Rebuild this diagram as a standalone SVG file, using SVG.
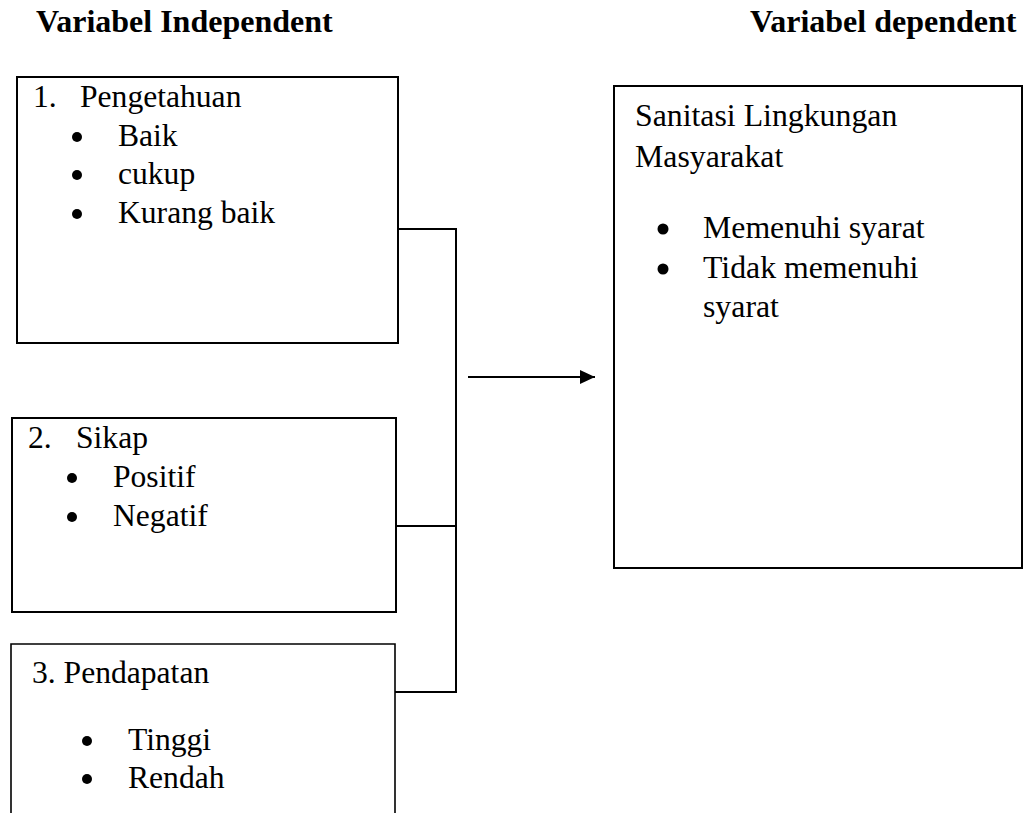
<svg xmlns="http://www.w3.org/2000/svg" width="1026" height="813" viewBox="0 0 1026 813">
<defs>
<style>
.box{fill:#fff;stroke:#000;stroke-width:2}
.t{font-family:"Liberation Serif","Times New Roman",serif;font-size:31.6px;fill:#000}
.tr{font-family:"Liberation Serif","Times New Roman",serif;font-size:31.8px;fill:#000}
.h{font-family:"Liberation Serif","Times New Roman",serif;font-size:32px;font-weight:bold;fill:#000}
.dot{fill:#000}
.conn{fill:none;stroke:#000;stroke-width:2}
</style>
<marker id="arr" viewBox="0 0 15 14" refX="15" refY="7" markerWidth="15" markerHeight="14" markerUnits="userSpaceOnUse" orient="auto">
<path d="M0,0 L15,7 L0,14 Z" fill="#000"/>
</marker>
</defs>
<rect width="1026" height="813" fill="#fff"/>
<g id="titles">
<text class="h" x="36" y="32">Variabel Independent</text>
<text class="h" x="750" y="32">Variabel dependent</text>
</g>
<g id="connectors">
<path class="conn" d="M395,229 H456 V692 H395"/>
<path class="conn" d="M395,526 H456"/>
<line class="conn" x1="468" y1="377" x2="595" y2="377" marker-end="url(#arr)"/>
</g>
<g id="node-pengetahuan">
<rect class="box" x="17" y="77" width="381" height="266"/>
<text class="t" x="33" y="107">1.</text>
<text class="t" x="80" y="107">Pengetahuan</text>
<circle class="dot" cx="77" cy="137" r="5"/>
<text class="t" x="118" y="146">Baik</text>
<circle class="dot" cx="77" cy="175" r="5"/>
<text class="t" x="118" y="184">cukup</text>
<circle class="dot" cx="77" cy="214" r="5"/>
<text class="t" x="118" y="223">Kurang baik</text>
</g>
<g id="node-sikap">
<rect class="box" x="12" y="418" width="384" height="194"/>
<text class="t" x="28" y="448">2.</text>
<text class="t" x="76" y="448">Sikap</text>
<circle class="dot" cx="72" cy="478" r="5"/>
<text class="t" x="113" y="487">Positif</text>
<circle class="dot" cx="72" cy="517" r="5"/>
<text class="t" x="113" y="526">Negatif</text>
</g>
<g id="node-pendapatan">
<path class="box" d="M11,820 V644 H395 V820" style="stroke-width:1.6"/>
<text class="t" x="32" y="683">3. Pendapatan</text>
<circle class="dot" cx="87" cy="741" r="5"/>
<text class="t" x="128" y="750">Tinggi</text>
<circle class="dot" cx="87" cy="779" r="5"/>
<text class="t" x="128" y="788">Rendah</text>
</g>
<g id="node-sanitasi">
<rect class="box" x="614" y="86" width="408" height="482"/>
<text class="tr" x="635" y="126">Sanitasi Lingkungan</text>
<text class="tr" x="635" y="167">Masyarakat</text>
<circle class="dot" cx="663" cy="229" r="5.5"/>
<text class="tr" x="703" y="238">Memenuhi syarat</text>
<circle class="dot" cx="663" cy="269" r="5.5"/>
<text class="tr" x="703" y="278">Tidak memenuhi</text>
<text class="tr" x="703" y="317">syarat</text>
</g>
</svg>
